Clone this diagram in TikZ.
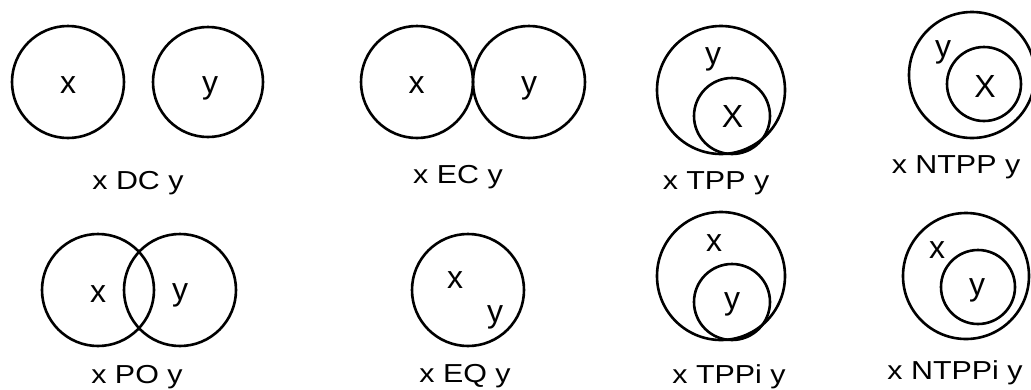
\documentclass[tikz,border=0pt]{standalone}
\usepackage{fontspec}
\setmainfont{Liberation Sans}
\usepackage{tikz}
\newcommand{\widetext}[1]{\scalebox{1.17}[1]{#1}}

\begin{document}
\begin{tikzpicture}[
	    x=1pt, y=-1pt,
	    region/.style={circle, draw, line width=2.6pt, inner sep=0pt, minimum size=#1},
	    tag/.style={anchor=base, inner sep=0pt, font=\fontsize{32}{38}\selectfont},
	    caption/.style={anchor=base, inner sep=0pt, font=\fontsize{26}{31}\selectfont}
	]
		\useasboundingbox (0,0) rectangle (1031,389);

		% x DC y
		\node[region=112pt] (dc1) at (68, 82) {};
		\node[region=110pt] (dc2) at (208, 82) {};
		\node[tag] (dcx) at (68, 93) {x};
		\node[tag] (dcy) at (210, 93) {y};
		\node[caption] (dc) at (138, 189) {\widetext{x DC y}};

		% x EC y
		\node[region=112pt] (ec1) at (417, 82) {};
		\node[region=112pt] (ec2) at (529, 82) {};
		\node[tag] (ecx) at (416.5, 93) {x};
		\node[tag] (ecy) at (529, 93) {y};
		\node[caption] (ec) at (458, 183) {\widetext{x EC y}};

		% x TPP y
		\node[region=128pt] (tpp1) at (721, 90) {};
		\node[region=76pt] (tpp2) at (732, 116) {};
		\node[tag] (tppy) at (713, 64) {y};
		\node[tag] (tppx) at (732.5, 127) {X};
		\node[caption] (tpp) at (716, 189) {\widetext{x TPP y}};

		% x NTPP y
		\node[region=126pt] (ntpp1) at (972, 75) {};
		\node[region=74pt] (ntpp2) at (984, 84) {};
		\node[tag] (ntppy) at (943, 57) {y};
		\node[tag] (ntppx) at (985, 97) {X};
		\node[caption] (ntpp) at (956, 173) {\widetext{x NTPP y}};

		% x PO y
		\node[region=112pt] (po1) at (98, 290) {};
		\node[region=112pt] (po2) at (180, 290) {};
		\node[tag] (pox) at (98, 302) {x};
		\node[tag] (poy) at (180, 300) {y};
		\node[caption] (po) at (137, 383) {\widetext{x PO y}};

		% x EQ y
		\node[region=112pt] (eq1) at (468, 290) {};
		\node[tag] (eqx) at (455, 288) {x};
		\node[tag] (eqy) at (495, 322) {y};
		\node[caption] (eq) at (465, 382) {\widetext{x EQ y}};

		% x TPPi y
		\node[region=128pt] (tppi1) at (721, 276) {};
		\node[region=76pt] (tppi2) at (732, 302) {};
		\node[tag] (tppix) at (714, 251) {x};
		\node[tag] (tppiy) at (732, 309) {y};
		\node[caption] (tppi) at (729, 383) {\widetext{x TPPi y}};

		% x NTPPi y
		\node[region=126pt] (ntppi1) at (966, 276) {};
		\node[region=74pt] (ntppi2) at (978, 287) {};
		\node[tag] (ntppix) at (937, 258) {x};
		\node[tag] (ntppiy) at (977, 295) {y};
		\node[caption] (ntppi) at (955, 379) {\widetext{x NTPPi y}};
	\end{tikzpicture}
\end{document}
